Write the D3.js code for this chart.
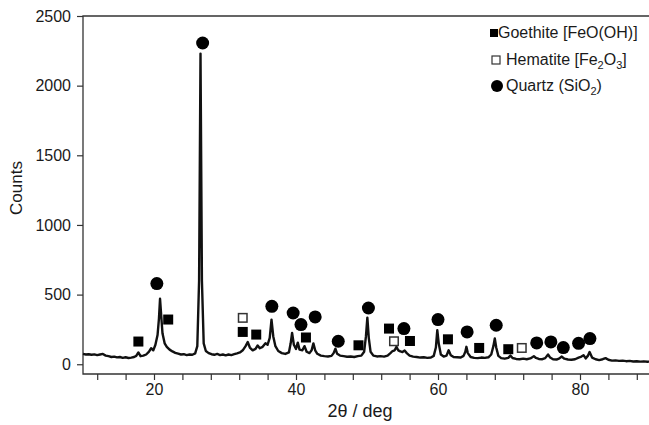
<!DOCTYPE html>
<html lang="en">
<head>
<meta charset="utf-8">
<title>XRD pattern</title>
<script src="https://d3js.org/d3.v7.min.js"></script>
<style type="text/css">
body {
	margin: 0;
	background-color: #ffffff;
	font-family: "Liberation Sans", Arial, sans-serif;
}
.axis text {
	font: 16px "Liberation Sans", Arial, sans-serif;
	fill: #1a1a1a;
}
.axis line {
	stroke: #333;
	stroke-width: 1.2;
}
</style>
</head>
<body>
<script type="text/javascript">

// diffractogram: [2theta, counts]
var spectrum = [
[10.0,74],[10.4,70],[10.8,72],[11.2,68],[11.6,71],[12.0,66],[12.4,70],[12.8,74],[13.2,62],[13.6,58],[14.0,52],[14.4,55],[14.8,49],[15.2,52],[15.6,46],[16.0,50],[16.4,45],[16.8,48],[17.2,52],[17.5,60],[17.8,85],[18.1,58],[18.5,62],[18.9,70],[19.3,90],[19.6,115],[19.9,100],[20.2,140],[20.5,210],[20.7,330],[20.85,470],[21.0,360],[21.2,220],[21.5,150],[21.8,125],[22.2,105],[22.6,92],[23.0,82],[23.4,76],[23.8,70],[24.2,72],[24.6,66],[25.0,70],[25.4,68],[25.8,78],[26.1,130],[26.35,600],[26.55,2230],[26.75,600],[27.0,150],[27.3,95],[27.7,80],[28.1,72],[28.5,68],[28.9,74],[29.3,66],[29.7,70],[30.1,64],[30.5,70],[30.9,66],[31.3,72],[31.7,78],[32.1,85],[32.5,100],[32.9,130],[33.2,160],[33.5,120],[33.9,100],[34.3,110],[34.6,135],[34.9,115],[35.3,125],[35.7,150],[36.0,140],[36.3,190],[36.55,320],[36.8,200],[37.1,130],[37.5,95],[38.0,80],[38.5,74],[39.0,85],[39.25,150],[39.45,225],[39.7,140],[40.0,110],[40.25,155],[40.5,105],[40.9,100],[41.2,130],[41.5,90],[41.9,80],[42.2,100],[42.45,150],[42.7,100],[43.0,75],[43.5,62],[44.0,58],[44.5,56],[45.0,60],[45.3,80],[45.55,112],[45.8,75],[46.2,62],[46.7,58],[47.2,54],[47.7,56],[48.2,52],[48.7,58],[49.2,62],[49.6,90],[49.85,200],[50.05,335],[50.25,190],[50.5,90],[50.9,62],[51.4,56],[51.9,58],[52.4,55],[52.9,62],[53.3,80],[53.6,95],[53.9,100],[54.15,125],[54.4,100],[54.7,92],[55.0,88],[55.3,98],[55.6,80],[56.0,62],[56.5,55],[57.0,52],[57.5,48],[58.0,50],[58.5,46],[59.0,48],[59.4,60],[59.7,120],[59.9,245],[60.1,150],[60.4,70],[60.8,55],[61.2,62],[61.5,100],[61.8,65],[62.2,52],[62.7,50],[63.2,48],[63.6,60],[63.85,90],[64.0,125],[64.2,80],[64.6,52],[65.1,46],[65.6,44],[66.1,48],[66.6,46],[67.1,50],[67.5,70],[67.8,130],[68.0,185],[68.2,120],[68.5,60],[68.9,44],[69.4,40],[69.9,46],[70.2,62],[70.5,45],[71.0,38],[71.5,36],[72.0,40],[72.5,36],[73.0,42],[73.5,58],[73.8,45],[74.2,38],[74.7,36],[75.1,44],[75.5,70],[75.8,48],[76.2,36],[76.7,34],[77.1,42],[77.4,55],[77.8,40],[78.3,34],[78.8,32],[79.3,36],[79.8,48],[80.2,55],[80.5,65],[80.8,42],[81.1,60],[81.35,88],[81.7,48],[82.2,36],[82.7,30],[83.2,36],[83.6,44],[84.0,32],[84.5,26],[85.0,28],[85.5,24],[86.0,26],[86.5,22],[87.0,24],[87.5,20],[88.0,22],[88.5,19],[89.0,21],[89.5,18],[90.0,20]
];

// phase markers: [2theta, counts] where the symbol sits
var goethite = [[17.8,163],[22.0,321],[32.5,232],[34.4,213],[41.4,192],[48.8,136],[53.1,256],[56.05,167],[61.4,179],[65.8,117],[69.9,108]];
var hematite = [[32.5,333],[53.8,165],[71.8,117]];
var quartz = [[20.4,579],[26.85,2306],[36.6,416],[39.6,368],[40.7,285],[42.7,340],[45.95,165],[50.2,404],[55.2,256],[60.0,321],[64.1,232],[68.2,280],[73.9,153],[75.9,160],[77.65,120],[79.8,150],[81.4,184]];

var yTicks = [0, 500, 1000, 1500, 2000, 2500];
var xTicks = d3.range(12, 90, 4);
var xLabels = [20, 40, 60, 80];

var width = 649;
var height = 425;

var x = d3.scaleLinear().domain([10, 90]).range([83, 651]);
var y = d3.scaleLinear().domain([-70, 2500]).range([374, 16]);

var svg = d3.select("body")
  .append("svg")
  .attr("width", width)
  .attr("height", height);

// axes
var xAxis = d3.axisBottom(x)
  .tickValues(xTicks)
  .tickSize(6)
  .tickPadding(4)
  .tickFormat(function(d) { return xLabels.indexOf(d) >= 0 ? d : ""; });

svg.append("g")
  .attr("class", "x axis")
  .attr("transform", "translate(0," + y.range()[0] + ")")
  .call(xAxis)
  .call(function(g) { g.select(".domain").remove(); });

var yAxis = d3.axisLeft(y)
  .tickValues(yTicks)
  .tickSize(6)
  .tickPadding(6)
  .tickFormat(d3.format("d"));

svg.append("g")
  .attr("class", "y axis")
  .attr("transform", "translate(" + x.range()[0] + ",0)")
  .call(yAxis)
  .call(function(g) { g.select(".domain").remove(); });

// frame: left, bottom, top
var x0 = x.range()[0], x1 = x.range()[1];
var yb = y.range()[0], yt = y.range()[1];
svg.append("path")
  .attr("d", "M" + x1 + "," + yt + "H" + x0 + "V" + yb + "H" + x1)
  .style("fill", "none")
  .style("stroke", "#333")
  .style("stroke-width", 1.3);

// the pattern
var line = d3.line()
  .x(function(d) { return x(d[0]); })
  .y(function(d) { return y(d[1]); });

svg.append("path")
  .datum(spectrum)
  .attr("d", line)
  .style("fill", "none")
  .style("stroke", "#111")
  .style("stroke-width", 2.4)
  .style("stroke-linejoin", "round");

// markers
var sq = 10;
svg.selectAll("rect.goethite")
  .data(goethite)
  .enter()
  .append("rect")
  .attr("class", "goethite")
  .attr("x", function(d) { return x(d[0]) - sq / 2; })
  .attr("y", function(d) { return y(d[1]) - sq / 2; })
  .attr("width", sq)
  .attr("height", sq)
  .style("fill", "#000");

svg.selectAll("rect.hematite")
  .data(hematite)
  .enter()
  .append("rect")
  .attr("class", "hematite")
  .attr("x", function(d) { return x(d[0]) - (sq - 1.5) / 2; })
  .attr("y", function(d) { return y(d[1]) - (sq - 1.5) / 2; })
  .attr("width", sq - 1.5)
  .attr("height", sq - 1.5)
  .style("fill", "#fff")
  .style("stroke", "#333")
  .style("stroke-width", 1.5);

svg.selectAll("circle.quartz")
  .data(quartz)
  .enter()
  .append("circle")
  .attr("class", "quartz")
  .attr("cx", function(d) { return x(d[0]); })
  .attr("cy", function(d) { return y(d[1]); })
  .attr("r", 6.5)
  .style("fill", "#000");

// axis titles
svg.append("text")
  .attr("transform", "translate(22,188) rotate(-90)")
  .attr("text-anchor", "middle")
  .style("font-size", "17px")
  .style("fill", "#1a1a1a")
  .text("Counts");

svg.append("text")
  .attr("x", 360)
  .attr("y", 417)
  .attr("text-anchor", "middle")
  .style("font-size", "18px")
  .style("fill", "#1a1a1a")
  .text("2\u03B8 / deg");

// legend
var legend = svg.append("g")
  .style("font-size", "16px")
  .style("fill", "#1a1a1a");

legend.append("rect")
  .attr("x", 490).attr("y", 29)
  .attr("width", 8).attr("height", 8)
  .style("fill", "#000");
legend.append("text")
  .attr("x", 498).attr("y", 38)
  .text("Goethite [FeO(OH)]");

legend.append("rect")
  .attr("x", 492).attr("y", 56)
  .attr("width", 8).attr("height", 8)
  .style("fill", "#fff")
  .style("stroke", "#333")
  .style("stroke-width", 1.2);
var hem = legend.append("text")
  .attr("x", 506).attr("y", 65);
hem.append("tspan").text("Hematite [Fe");
hem.append("tspan").attr("dy", 4).style("font-size", "11px").text("2");
hem.append("tspan").attr("dy", -4).text("O");
hem.append("tspan").attr("dy", 4).style("font-size", "11px").text("3");
hem.append("tspan").attr("dy", -4).text("]");

legend.append("circle")
  .attr("cx", 497).attr("cy", 86)
  .attr("r", 6)
  .style("fill", "#000");
var qz = legend.append("text")
  .attr("x", 506).attr("y", 91);
qz.append("tspan").text("Quartz (SiO");
qz.append("tspan").attr("dy", 4).style("font-size", "11px").text("2");
qz.append("tspan").attr("dy", -4).text(")");

</script>
</body>
</html>
